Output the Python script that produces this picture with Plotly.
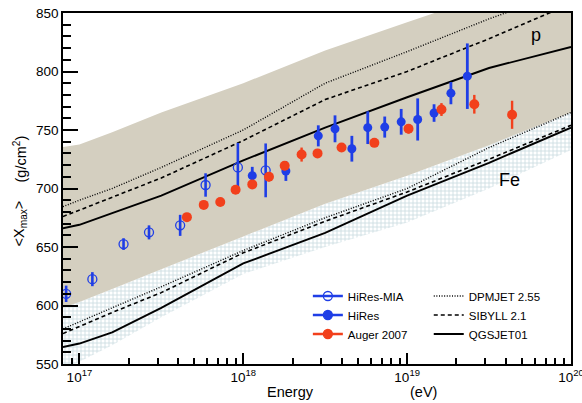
import plotly.graph_objects as go

# ---------------- data ----------------
# HiRes-MIA (open circles)
mia_E = [8.3e16, 1.2e17, 1.86e17, 2.66e17, 4.12e17, 5.89e17, 9.27e17, 1.37e18]
mia_X = [610, 622.5, 652.5, 662.5, 668.5, 703, 718, 715.5]
mia_err = [7, 6, 5, 6, 9, 10, 21, 23]

# HiRes (filled blue)
hires_E = [1.135e18, 1.82e18, 2.87e18, 3.63e18, 4.6e18, 5.75e18, 7.3e18, 9.2e18,
           1.16e19, 1.46e19, 1.85e19, 2.33e19]
hires_X = [711, 715, 745, 751, 734, 752, 752.5, 757, 759, 764.5, 781.5, 796]
hires_err = [7.5, 8.5, 9, 11.5, 11, 14, 9, 11, 18, 7.5, 9.5, 28]

# Auger 2007 (filled red)
auger_E = [4.53e17, 5.74e17, 7.24e17, 8.98e17, 1.135e18, 1.435e18, 1.79e18, 2.27e18,
           2.84e18, 3.98e18, 6.31e18, 1.02e19, 1.62e19, 2.57e19, 4.37e19]
auger_X = [675.5, 686, 688.5, 699, 703.5, 710, 719.5, 729, 730, 735, 739, 751, 767.5, 772, 763]
auger_err = [3, 3, 3, 3, 3, 4, 4, 6, 3, 3, 3, 4, 5.5, 8, 12]

# model curves (energy grid shared)
model_E = [7.94e16, 1e17, 1.585e17, 3.16e17, 1e18, 3.16e18, 1e19, 3.16e19, 1e20]
p_dpmjet = [684.5, 690, 700, 718, 750, 790, 817, 845, 870]
p_sibyll = [676, 681.5, 692, 709, 741, 776, 800, 828, 858]
p_qgsjet = [666, 669, 679, 694, 724, 752, 778, 803, 821]
fe_dpmjet = [580, 586, 598, 616, 647, 675, 700, 735, 765]
fe_sibyll = [576, 582, 594, 611, 645, 672, 697, 725, 754]
fe_qgsjet = [564.5, 567.5, 577, 598, 636, 662, 694, 722, 752]

# shaded bands
band_top = [735.5, 737.5, 748, 765, 790, 818, 842, 866, 890]
band_bottom = [598, 603, 614, 631, 659, 687, 711, 737, 765]
hatch_bottom = [545, 552, 566, 590, 627, 650, 671, 700, 733]

# axis ticks
x_tickvals = [1e17, 1e18, 1e19, 1e20]
x_ticktext = ["10<sup>17</sup>", "10<sup>18</sup>", "10<sup>19</sup>", "10<sup>20</sup>"]
x_minor = [9e16] + [float(m) * 10.0 ** e for e in (17, 18, 19) for m in range(2, 10)]

# ---------------- styles ----------------
FONT = "Liberation Sans, Arial, Helvetica, sans-serif"
BLUE = "#1f3ee6"
RED = "#f2401c"
BEIGE = "#d4cfc0"

fig = go.Figure()

# hatched iron region
fig.add_trace(go.Scatter(
    x=model_E + model_E[::-1], y=band_bottom + hatch_bottom[::-1],
    fill="toself", mode="none", showlegend=False, hoverinfo="skip",
    fillcolor="white",
    fillpattern=dict(shape="+", size=4, solidity=0.4, fgcolor="#9dbdc6", bgcolor="white"),
))
# beige proton band
fig.add_trace(go.Scatter(
    x=model_E + model_E[::-1], y=band_top + band_bottom[::-1],
    fill="toself", mode="none", fillcolor=BEIGE, showlegend=False, hoverinfo="skip",
))

# model lines
styles = [("DPMJET 2.55", p_dpmjet, fe_dpmjet, "1px,1.6px", 1.4),
          ("SIBYLL 2.1", p_sibyll, fe_sibyll, "4px,3px", 1.6),
          ("QGSJET01", p_qgsjet, fe_qgsjet, "solid", 1.9)]
for name, pv, fv, dash, w in styles:
    fig.add_trace(go.Scatter(x=model_E, y=pv, mode="lines", name=name, legend="legend2",
                             line=dict(color="black", width=w, dash=dash)))
    fig.add_trace(go.Scatter(x=model_E, y=fv, mode="lines", showlegend=False,
                             line=dict(color="black", width=w, dash=dash)))

# data
fig.add_trace(go.Scatter(
    x=mia_E, y=mia_X, mode="markers", showlegend=False,
    marker=dict(symbol="circle-open", size=9, color=BLUE, line=dict(width=1.3, color=BLUE)),
    error_y=dict(type="data", array=mia_err, color=BLUE, thickness=2.6, width=0),
))
fig.add_trace(go.Scatter(
    x=hires_E, y=hires_X, mode="markers", showlegend=False,
    marker=dict(symbol="circle", size=9, color=BLUE),
    error_y=dict(type="data", array=hires_err, color=BLUE, thickness=2.8, width=0),
))
fig.add_trace(go.Scatter(
    x=auger_E, y=auger_X, mode="markers", showlegend=False,
    marker=dict(symbol="circle", size=10, color=RED),
    error_y=dict(type="data", array=auger_err, color=RED, thickness=2.4, width=0),
))

# legend entries for data
for name, sym, col in [("HiRes-MIA", "circle-open", BLUE), ("HiRes", "circle", BLUE),
                       ("Auger 2007", "circle", RED)]:
    fig.add_trace(go.Scatter(x=[None], y=[None], mode="lines+markers", name=name,
                             legend="legend",
                             line=dict(color=col, width=2.5),
                             marker=dict(symbol=sym, size=9, color=col,
                                         line=dict(width=1.3, color=col))))

axis_common = dict(showline=True, linecolor="black", linewidth=1.5, mirror=True,
                   showgrid=False, zeroline=False, ticks="inside", tickcolor="black",
                   automargin=False, ticklabeloverflow="allow",
                   tickfont=dict(family=FONT, size=13.5, color="black"))

fig.update_layout(
    width=582, height=403,
    margin=dict(l=63, r=11, t=13, b=39),
    paper_bgcolor="white", plot_bgcolor="white",
    font=dict(family=FONT, color="black"),
    xaxis=dict(type="log", range=[16.9, 20.0], tickvals=x_tickvals, ticktext=x_ticktext,
               ticklen=11, tickwidth=1.5,
               minor=dict(tickvals=x_minor, ticks="inside", ticklen=6, tickwidth=1.5,
                          tickcolor="black", showgrid=False),
               **axis_common),
    yaxis=dict(range=[550, 850], tick0=550, dtick=50, ticklen=15, tickwidth=2,
               minor=dict(dtick=10, ticks="inside", ticklen=8, tickwidth=1.5,
                          tickcolor="black", showgrid=False),
               **axis_common),
    legend=dict(x=0.482, y=0.235, xanchor="left", yanchor="top", bgcolor="rgba(0,0,0,0)",
                font=dict(family=FONT, size=11.5, color="black")),
    legend2=dict(x=0.72, y=0.235, xanchor="left", yanchor="top", bgcolor="rgba(0,0,0,0)",
                 font=dict(family=FONT, size=11.5, color="black")),
    annotations=[
        dict(text="Energy", x=0.447, y=-0.08, xref="paper", yref="paper",
             showarrow=False, font=dict(size=14.5), xanchor="center", yanchor="middle"),
        dict(text="(eV)", x=0.71, y=-0.08, xref="paper", yref="paper",
             showarrow=False, font=dict(size=14.5), xanchor="center", yanchor="middle"),
        dict(text="(g/cm<sup>2</sup>)", x=-0.085, y=0.585, xref="paper", yref="paper",
             showarrow=False, textangle=-90, font=dict(size=14.5),
             xanchor="center", yanchor="middle"),
        dict(text="&lt;X<sub>max</sub>&gt;", x=-0.085, y=0.40, xref="paper", yref="paper",
             showarrow=False, textangle=-90, font=dict(size=14.5),
             xanchor="center", yanchor="middle"),
        dict(text="p", x=19.785, y=831, xref="x", yref="y", showarrow=False,
             font=dict(size=18)),
        dict(text="Fe", x=19.623, y=707.6, xref="x", yref="y", showarrow=False,
             font=dict(size=18)),
    ],
)

fig.write_html(
    "out.html",
    config={"responsive": False, "displayModeBar": False},
    post_script="document.body.style.margin='0';document.body.style.overflow='hidden';",
)
